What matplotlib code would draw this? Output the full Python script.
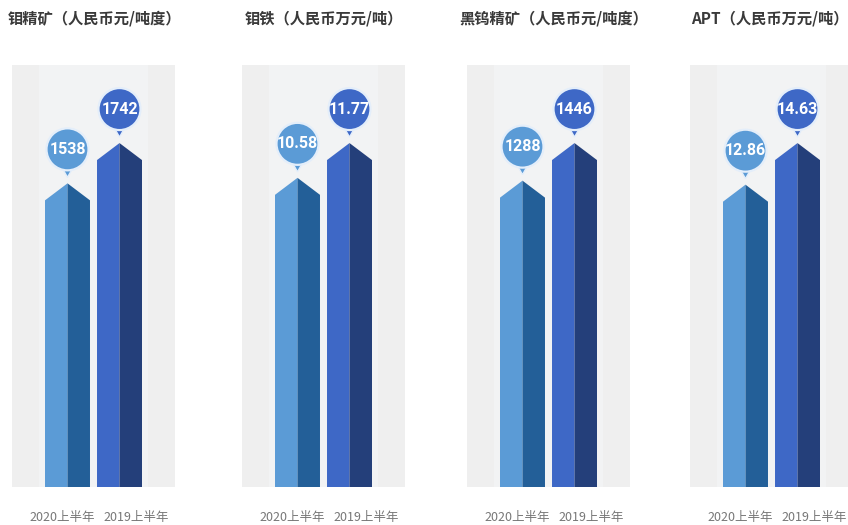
import matplotlib
matplotlib.use("Agg")
import matplotlib.pyplot as plt
from matplotlib.patches import Polygon, Circle
from matplotlib.transforms import ScaledTranslation

plt.rcParams['font.family'] = ['Noto Sans CJK SC', 'DejaVu Sans']

# ---- data ----
titles = ["钼精矿（人民币元/吨度）", "钼铁（人民币万元/吨）", "黑钨精矿（人民币元/吨度）", "APT（人民币万元/吨）"]
periods = ["2020上半年", "2019上半年"]
values_2020 = [1538, 10.58, 1288, 12.86]
values_2019 = [1742, 11.77, 1446, 14.63]
value_labels_2020 = ["1538", "10.58", "1288", "12.86"]
value_labels_2019 = ["1742", "11.77", "1446", "14.63"]

# ---- layout / style ----
W, H, DPI = 848, 525, 100
panel_left_px = [12, 242, 467, 690]
title_x_px = [8, 245, 459, 691]
period_x_px = [50, 124]
panel_w_px, panel_bottom_px, panel_h_px = 163, 38, 422
left_colors = ["#5b9bd6", "#3e68c6"]
right_colors = ["#235f98", "#243f7a"]
bubble_colors = ["#5b9bd6", "#3e68c6"]
bg = "#efefef"
roof_px = 17

fig = plt.figure(figsize=(W / DPI, H / DPI), dpi=DPI)
fig.patch.set_facecolor("white")

for i in range(4):
    ax = fig.add_axes([panel_left_px[i] / W, panel_bottom_px / H, panel_w_px / W, panel_h_px / H])
    ax.set_facecolor(bg)
    for s in ax.spines.values():
        s.set_visible(False)
    ax.set_xticks([])
    ax.set_yticks([])
    vals = [values_2020[i], values_2019[i]]
    labs = [value_labels_2020[i], value_labels_2019[i]]
    ymax = max(vals) * 1.227
    ax.set_xlim(-1.067, 2.067)
    ax.set_ylim(0, ymax)
    # subtle lighter band behind bars
    ax.axvspan(-0.55, 1.55, color="#f2f3f4", zorder=0.5, lw=0)
    bw = 0.865
    roof = roof_px / panel_h_px * ymax
    for j, v in enumerate(vals):
        x0, xc, x1 = j - bw / 2, j, j + bw / 2
        ax.add_patch(Polygon([(x0, 0), (x0, v - roof), (xc, v), (xc, 0)],
                             closed=True, fc=left_colors[j], ec="none", zorder=2))
        ax.add_patch(Polygon([(xc, 0), (xc, v), (x1, v - roof), (x1, 0)],
                             closed=True, fc=right_colors[j], ec="none", zorder=2))
        # bubble (pixel-sized, anchored at the bar peak)
        off = ScaledTranslation(j, v, ax.transData)
        tr = fig.dpi_scale_trans + off
        r = 21 / DPI
        cy = 34 / DPI
        tri = Polygon([(-8 / DPI, cy - 14 / DPI), (8 / DPI, cy - 14 / DPI), (0, 6 / DPI)],
                      closed=True, transform=tr, fc=bubble_colors[j], ec="#e4eefa", lw=1.0,
                      zorder=3, clip_on=False)
        ax.add_patch(tri)
        circ = Circle((0, cy), r, transform=tr, fc=bubble_colors[j], ec="#e4eefa", lw=1.6,
                      zorder=4, clip_on=False)
        ax.add_patch(circ)
        ax.text(0, cy, labs[j], transform=tr, ha="center", va="center", color="white",
                fontsize=11.5, fontweight="bold", family=["Roboto", "DejaVu Sans"],
                zorder=5)
    fig.text(title_x_px[i] / W, 1 - 18 / H, titles[i], ha="left", va="center",
             fontsize=11, fontweight="bold", color="#3a3a3a")
    for k, p in enumerate(periods):
        fig.text((panel_left_px[i] + period_x_px[k]) / W, 1 - 518 / H, p,
                 ha="center", va="center", fontsize=9, color="#777777")

fig.savefig("out.png", dpi=DPI, facecolor="white")
